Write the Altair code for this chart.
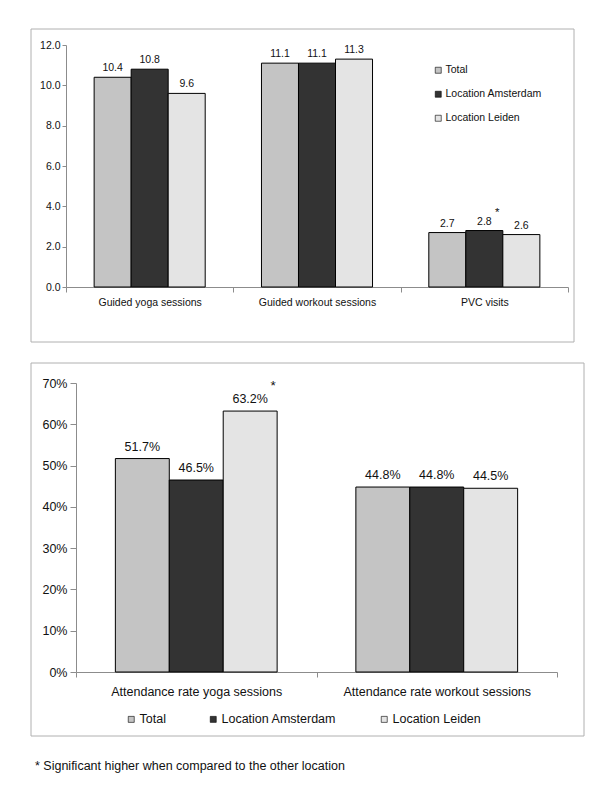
import altair as alt
import pandas as pd

FONT = "Liberation Sans"

groups = ["Total", "Location Amsterdam", "Location Leiden"]
colors = ["#c4c4c4", "#333333", "#e4e4e4"]

top_categories = ["Guided yoga sessions", "Guided workout sessions", "PVC visits"]
top_total = [10.4, 11.1, 2.7]
top_amsterdam = [10.8, 11.1, 2.8]
top_leiden = [9.6, 11.3, 2.6]
top_sig_total = ["", "", ""]
top_sig_amsterdam = ["", "", "*"]
top_sig_leiden = ["", "", ""]
top_ticks = [0, 2, 4, 6, 8, 10, 12]

bottom_categories = ["Attendance rate yoga sessions", "Attendance rate workout sessions"]
bottom_total = [51.7, 44.8]
bottom_amsterdam = [46.5, 44.8]
bottom_leiden = [63.2, 44.5]
bottom_sig_total = ["", ""]
bottom_sig_amsterdam = ["", ""]
bottom_sig_leiden = ["*", ""]
bottom_ticks = [0, 0.1, 0.2, 0.3, 0.4, 0.5, 0.6, 0.7]

footnote = "* Significant higher when compared to the other location"


def build_df(cats, series, sigs, scale=1.0):
    rows = []
    for ci, c in enumerate(cats):
        for g, vals, sg in zip(groups, series, sigs):
            rows.append({"category": c, "group": g, "value": vals[ci] / scale, "sig": sg[ci]})
    return pd.DataFrame(rows)


top_df = build_df(top_categories, [top_total, top_amsterdam, top_leiden],
                  [top_sig_total, top_sig_amsterdam, top_sig_leiden])
bottom_df = build_df(bottom_categories, [bottom_total, bottom_amsterdam, bottom_leiden],
                     [bottom_sig_total, bottom_sig_amsterdam, bottom_sig_leiden], scale=100.0)

color_scale = alt.Scale(domain=groups, range=colors)
AXIS_GRAY = "#8c8c8c"
TXT = "#111111"


def panel(df, cats, xrange, ydomain, yticks, yfmt, lblfmt, fs, xpad, ytick, ylpad, xlpad,
          yoffset, legend, frame, lbl_dy, star_dx, star_dy):
    x = alt.X("category:N", sort=cats,
              scale=alt.Scale(paddingInner=0, paddingOuter=0, range=xrange),
              axis=alt.Axis(title=None, labelAngle=0, tickBand="extent", domainColor=AXIS_GRAY,
                            tickColor=AXIS_GRAY, tickSize=5, labelFontSize=fs, labelLimit=400,
                            labelPadding=xlpad, labelColor=TXT))
    xo = alt.XOffset("group:N", sort=groups,
                     scale=alt.Scale(paddingInner=0, paddingOuter=xpad))
    y = alt.Y("value:Q", scale=alt.Scale(domain=ydomain, nice=False, zero=True),
              axis=alt.Axis(title=None, values=yticks, format=yfmt, grid=False,
                            domainColor=AXIS_GRAY, tickColor=AXIS_GRAY, tickSize=ytick,
                            offset=yoffset, labelPadding=ylpad, labelFontSize=fs,
                            labelColor=TXT))
    base = alt.Chart(df)
    bars = base.mark_bar(stroke="black", strokeWidth=1).encode(
        x=x, xOffset=xo, y=y,
        color=alt.Color("group:N", scale=color_scale, sort=groups, legend=legend))
    labels = base.mark_text(baseline="alphabetic", dy=lbl_dy, fontSize=fs, color=TXT).encode(
        x=x, xOffset=xo, y=y, text=alt.Text("value:Q", format=lblfmt))
    stars = base.transform_filter(alt.datum.sig != "").mark_text(
        baseline="alphabetic", dx=star_dx, dy=star_dy, fontSize=fs + 1, color=TXT).encode(
        x=x, xOffset=xo, y=y, text="sig:N")
    box = alt.Chart(alt.Data(values=[{}])).mark_rect(
        fill="transparent", stroke="#b0b0b0", strokeWidth=1).encode(
        x=alt.value(frame[0]), x2=alt.value(frame[1]),
        y=alt.value(frame[2]), y2=alt.value(frame[3]))
    return [box, bars, labels, stars]


top_legend = alt.Legend(title=None, orient="none", legendX=367, legendY=20,
                        direction="vertical", symbolType="square", symbolSize=36,
                        symbolStrokeColor="black", symbolStrokeWidth=0.6,
                        labelFontSize=10.5, labelColor=TXT, labelOffset=2, rowPadding=13)
bottom_legend = alt.Legend(title=None, orient="none", legendX=59, legendY=330,
                           direction="horizontal", symbolType="square", symbolSize=36,
                           symbolStrokeColor="black", symbolStrokeWidth=0.6,
                           labelFontSize=12.5, labelColor=TXT, labelOffset=2,
                           columnPadding=41)

# both plot areas share the left origin (page x = 65); the bottom one draws its axes 10px in
top_layers = panel(top_df, top_categories, [0, 502], [0, 12], top_ticks, ".1f", ".1f", 10.5,
                   0.76, 4, 2, 5, 0, top_legend, (-35, 508, -16, 297), -6, 13, -15)
top = alt.layer(*top_layers).properties(width=502, height=242)

bottom_layers = panel(bottom_df, bottom_categories, [10, 491], [0, 0.7], bottom_ticks, ".0%",
                      ".1%", 12.5, 0.73, 6, 3, 8, -10, bottom_legend, (-35, 518, -20, 353),
                      -8, 23, -21)
note = alt.Chart(alt.Data(values=[{}])).mark_text(
    align="left", baseline="middle", fontSize=12.5, color=TXT).encode(
    x=alt.value(-31), y=alt.value(383), text=alt.value(footnote))
bottom = alt.layer(*bottom_layers, note).properties(width=491, height=289)

chart = alt.concat(top, bottom, columns=1, spacing=19).resolve_scale(
    x="independent", y="independent", xOffset="independent", color="independent"
).resolve_legend(color="independent").properties(
    padding={"left": 22, "top": 20, "right": 5, "bottom": 5}
).configure(font=FONT).configure_view(stroke=None)

chart.save("out.html", embed_options={"renderer": "svg", "actions": False})
